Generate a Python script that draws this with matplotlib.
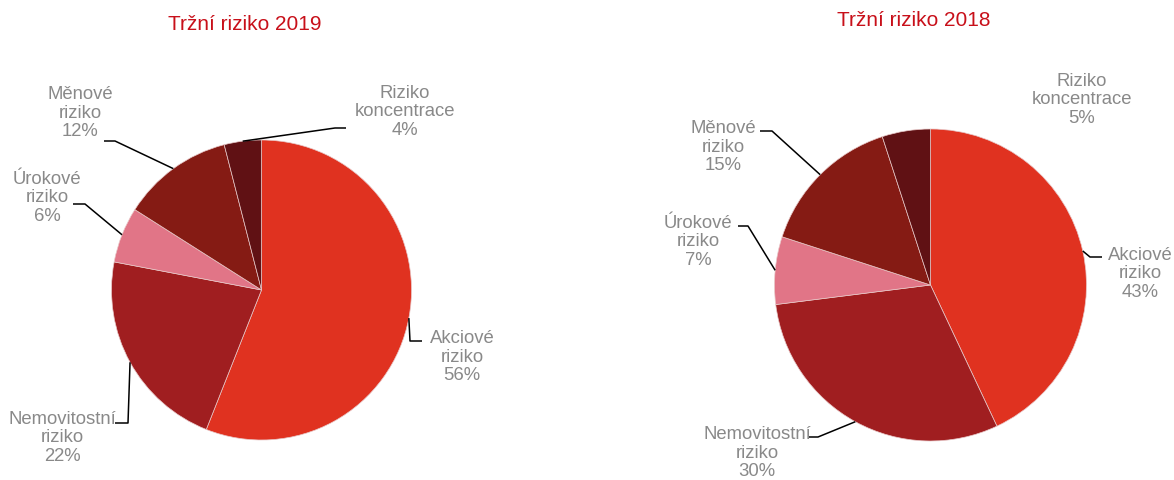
import numpy as np
import matplotlib.pyplot as plt

plt.rcParams['font.family'] = ['Liberation Sans', 'DejaVu Sans']

# data
categories = ['Akciové\nriziko', 'Nemovitostní\nriziko', 'Úrokové\nriziko',
              'Měnové\nriziko', 'Riziko\nkoncentrace']
shares_2019 = [56, 22, 6, 12, 4]
shares_2018 = [43, 30, 7, 15, 5]
titles = ['Tržní riziko 2019', 'Tržní riziko 2018']

colors = ['#E03220', '#A01E20', '#E17587', '#851B14', '#601114']

W, H = 1174, 480
fig = plt.figure(figsize=(W / 100, H / 100), dpi=100)
ax = fig.add_axes([0, 0, 1, 1])

# layout in pixel coordinates (y measured from the top)
pies = [
    dict(values=shares_2019, center=(261.5, 290), r=150, title_xy=(245, 25),
         label_xy=[(462, 357), (62, 438), (47, 198), (80, 113), (405, 112)],
         leader=[[(410, 341), (422, 341)], [(128, 423), (115, 423)],
                 [(85, 204), (73, 204)], [(115, 141), (104, 141)],
                 [(335, 128), (346, 128)]]),
    dict(values=shares_2018, center=(930.5, 285), r=156, title_xy=(914, 21),
         label_xy=[(1140, 274), (757, 453), (698, 242), (723, 147), (1082, 100)],
         leader=[[(1090, 257), (1102, 257)], [(818, 437), (808, 437)],
                 [(748, 226), (738, 226)], [(772, 131), (760, 131)],
                 None]),
]

def fy(y):
    return H - y

for p, title in zip(pies, titles):
    cx, cy = p['center']
    vals = np.array(p['values'], dtype=float)
    ax.pie(vals, colors=colors, startangle=90, counterclock=False,
           center=(cx, fy(cy)), radius=p['r'],
           wedgeprops=dict(edgecolor='#e8c8c8', linewidth=0.5))

    # leader lines start at the middle of each wedge's arc
    ends = np.cumsum(vals) / vals.sum() * 360
    starts = ends - vals / vals.sum() * 360
    mids = np.deg2rad(90 - (starts + ends) / 2)
    for i, cat in enumerate(categories):
        pct = f'{int(vals[i])}%'
        lx, ly = p['label_xy'][i]
        ax.text(lx, fy(ly), f'{cat}\n{pct}', ha='center', va='center',
                multialignment='center', fontsize=13.3, color='#898989',
                linespacing=1.13)
        if p['leader'][i] is not None:
            sx = cx + p['r'] * np.cos(mids[i])
            sy = fy(cy) + p['r'] * np.sin(mids[i])
            xs = [sx] + [pt[0] for pt in p['leader'][i]]
            ys = [sy] + [fy(pt[1]) for pt in p['leader'][i]]
            ax.plot(xs, ys, color='black', lw=1.1, solid_capstyle='butt')

    tx, ty = p['title_xy']
    ax.text(tx, fy(ty), title, ha='center', va='center', fontsize=15,
            color='#C8101A')

ax.set_xlim(0, W)
ax.set_ylim(0, H)
ax.set_aspect('equal')
ax.axis('off')

fig.savefig('out.png', dpi=100)
